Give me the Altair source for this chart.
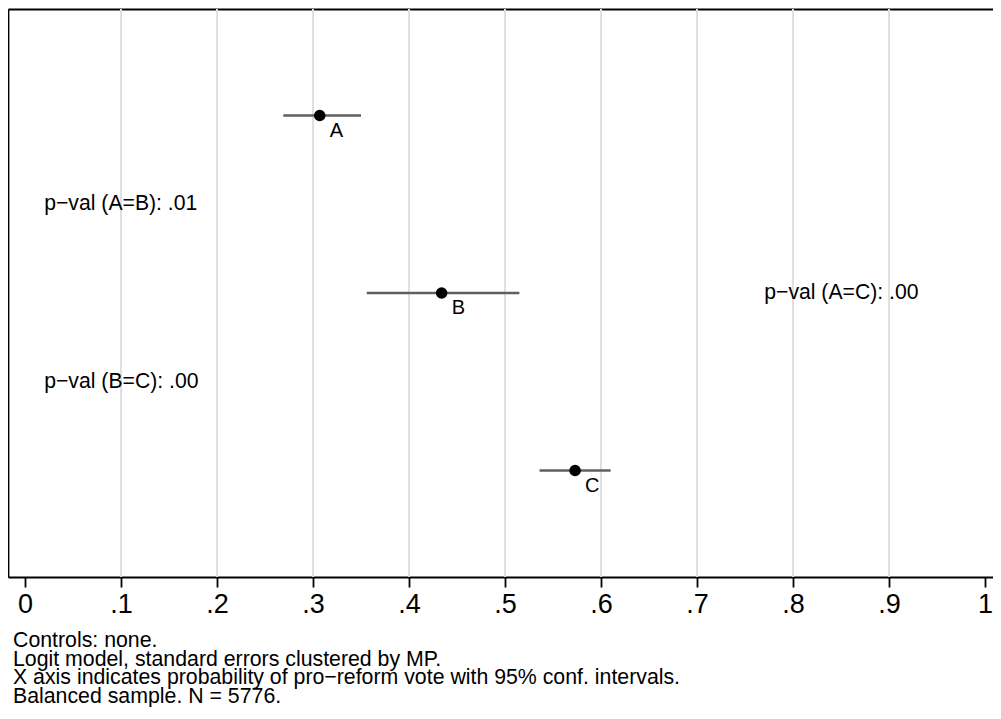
import altair as alt
import pandas as pd

# ---- data ----
GROUPS = ["A", "B", "C"]
ROW = [3, 2, 1]
ESTIMATE = [0.307, 0.434, 0.573]
CI_LOW = [0.269, 0.356, 0.536]
CI_HIGH = [0.350, 0.515, 0.610]

PVAL_TEXT = ["p\u2212val (A=B): .01", "p\u2212val (A=C): .00", "p\u2212val (B=C): .00"]
PVAL_X = [0.02, 0.77, 0.02]
PVAL_ROW = [2.5, 2.0, 1.5]

TICK_VALUES = [0, 0.1, 0.2, 0.3, 0.4, 0.5, 0.6, 0.7, 0.8, 0.9, 1]
TICK_LABELS = ["0", ".1", ".2", ".3", ".4", ".5", ".6", ".7", ".8", ".9", "1"]
GRID_VALUES = [0.1, 0.2, 0.3, 0.4, 0.5, 0.6, 0.7, 0.8, 0.9]

NOTES = [
    "Controls: none.",
    "Logit model, standard errors clustered by MP.",
    "X axis indicates probability of pro\u2212reform vote with 95% conf. intervals.",
    "Balanced sample. N = 5776.",
]

FONT = "Liberation Sans"

est = pd.DataFrame({"group": GROUPS, "row": ROW, "est": ESTIMATE,
                    "lo": CI_LOW, "hi": CI_HIGH})
pv = pd.DataFrame({"text": PVAL_TEXT, "x": PVAL_X, "row": PVAL_ROW})
grid = pd.DataFrame({"g": GRID_VALUES})

label_expr = " : ".join(
    f"abs(datum.value - {v}) < 1e-6 ? '{l}'" for v, l in zip(TICK_VALUES, TICK_LABELS)
) + " : ''"

xscale = alt.Scale(domain=[-0.0177, 1.0083], nice=False, zero=False)
yscale = alt.Scale(domain=[0.4, 3.6], nice=False, zero=False)

bottom_axis = alt.Axis(values=TICK_VALUES, labelExpr=label_expr, title=None, grid=False,
                       domain=True, domainColor="black", domainWidth=1.8,
                       ticks=True, tickColor="black", tickWidth=1.8, tickSize=10,
                       labelFont=FONT, labelFontSize=27, labelColor="black",
                       labelPadding=4, labelFlush=False, labelOverlap=False)
top_axis = alt.Axis(orient="top", title=None, grid=False, labels=False, ticks=False,
                    domain=True, domainColor="black", domainWidth=1.8)
left_axis = alt.Axis(orient="left", title=None, grid=False, labels=False, ticks=False,
                     domain=True, domainColor="black", domainWidth=1.8)

grid_layer = alt.Chart(grid).mark_rule(color="#e0e0e0", strokeWidth=2).encode(
    x=alt.X("g:Q", scale=xscale, axis=top_axis)
)

ci_layer = alt.Chart(est).mark_rule(color="#5f5f5f", strokeWidth=2.6).encode(
    x=alt.X("lo:Q", scale=xscale, axis=bottom_axis),
    x2="hi",
    y=alt.Y("row:Q", scale=yscale, axis=left_axis),
)

pt_layer = alt.Chart(est).mark_point(filled=True, color="black", size=135,
                                     opacity=1, shape="circle").encode(
    x=alt.X("est:Q", scale=xscale, axis=None),
    y=alt.Y("row:Q", scale=yscale, axis=None),
)

lab_layer = alt.Chart(est).mark_text(align="left", baseline="top", dx=10, dy=5,
                                     font=FONT, fontSize=20, color="black").encode(
    x=alt.X("est:Q", scale=xscale, axis=None),
    y=alt.Y("row:Q", scale=yscale, axis=None),
    text="group",
)

pv_layer = alt.Chart(pv).mark_text(align="left", baseline="middle",
                                   font=FONT, fontSize=21.2, color="black").encode(
    x=alt.X("x:Q", scale=xscale, axis=None),
    y=alt.Y("row:Q", scale=yscale, axis=None),
    text="text",
)

chart = alt.layer(grid_layer, ci_layer, pt_layer, lab_layer, pv_layer).resolve_axis(
    x="independent", y="independent"
).properties(
    width=985, height=568,
    autosize=alt.AutoSizeParams(type="fit-x", contains="padding"),
    title=alt.TitleParams(text=NOTES, orient="bottom", anchor="start", frame="group",
                          font=FONT, fontSize=21.3, fontWeight="normal",
                          lineHeight=18.5, color="black", baseline="top",
                          offset=13, dx=5),
    padding=0,
).configure_view(stroke="transparent", strokeWidth=0).configure(background="white")

chart.save("out.html", embed_options={"renderer": "svg", "actions": False})
